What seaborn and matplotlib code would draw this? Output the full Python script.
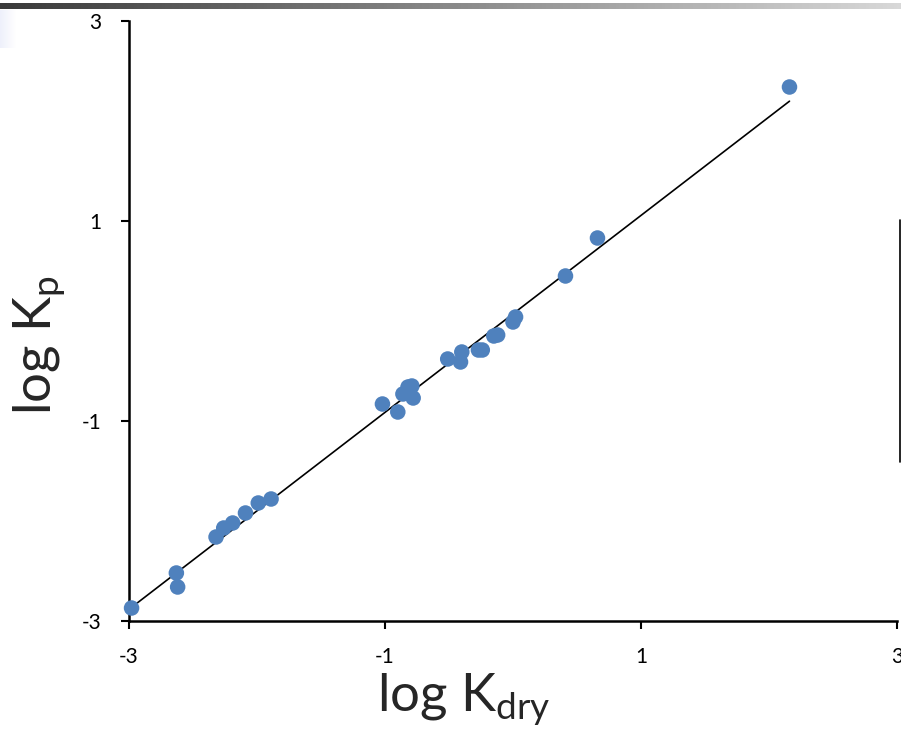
import numpy as np
import pandas as pd
import matplotlib
matplotlib.use("Agg")
import matplotlib.pyplot as plt
import seaborn as sns
from matplotlib.lines import Line2D

# 数据: log K_dry vs log K_p
log_kdry = [-2.98, -2.63, -2.62, -2.32, -2.26, -2.19, -2.09, -1.99, -1.89,
            -1.02, -0.90, -0.86, -0.82, -0.79, -0.78,
            -0.51, -0.40, -0.41, -0.27, -0.24, -0.15, -0.12, 0.00, 0.02,
            0.41, 0.66, 2.16]
log_kp = [-2.87, -2.52, -2.66, -2.16, -2.07, -2.02, -1.92, -1.82, -1.78,
          -0.83, -0.91, -0.73, -0.66, -0.65, -0.77,
          -0.38, -0.31, -0.41, -0.29, -0.29, -0.15, -0.14, -0.01, 0.04,
          0.45, 0.83, 2.34]
ticks = [-3, -1, 1, 3]

df = pd.DataFrame({"log_kdry": log_kdry, "log_kp": log_kp})

sns.set_theme(style="white")
plt.rcParams["font.family"] = ["Lato", "DejaVu Sans"]
plt.rcParams["mathtext.fontset"] = "custom"

fig = plt.figure(figsize=(9.01, 7.35), dpi=100)
ax = fig.add_axes([129 / 901, 1 - 621 / 735, (897 - 129) / 901, (621 - 21) / 735])

# 幻灯片顶部的渐变条
bar_ax = fig.add_axes([0, 1 - 9.5 / 735, 1, 6.5 / 735])
bar_ax.imshow(np.linspace(0, 1, 256)[None, :], aspect="auto",
              cmap=matplotlib.colors.LinearSegmentedColormap.from_list("g", ["#3a3a3a", "#d8d8d8"]))
bar_ax.axis("off")
side_ax = fig.add_axes([0, 1 - 48 / 735, 16 / 901, 38 / 735])
side_ax.imshow(np.linspace(0, 1, 64)[None, :], aspect="auto",
               cmap=matplotlib.colors.LinearSegmentedColormap.from_list("s", ["#eef0fb", "#ffffff"]))
side_ax.axis("off")
fig.add_artist(Line2D([899.5 / 901, 899.5 / 901], [1 - 220 / 735, 1 - 462 / 735],
                      color="black", lw=1.2, transform=fig.transFigure))

sns.regplot(data=df, x="log_kdry", y="log_kp", ax=ax, ci=None, scatter=False,
            truncate=True, line_kws={"color": "black", "lw": 1.2})
sns.scatterplot(data=df, x="log_kdry", y="log_kp", ax=ax, s=125,
                color="#4F81BD", edgecolor="none", zorder=3, clip_on=False)

ax.set_xlim(-3, 3)
ax.set_ylim(-3, 3)
ax.set_xticks(ticks)
ax.set_yticks(ticks)
ax.set_xticklabels([str(t) for t in ticks])
ax.set_yticklabels([str(t) for t in ticks])
ax.tick_params(axis="both", direction="out", length=6, width=1.5, colors="black",
               labelsize=15, left=True, bottom=True)
ax.tick_params(axis="x", pad=13)
ax.tick_params(axis="y", pad=14)
for s in ["top", "right"]:
    ax.spines[s].set_visible(False)
for s in ["left", "bottom"]:
    ax.spines[s].set_color("black")
    ax.spines[s].set_linewidth(1.8)

ax.set_xlabel(r"log K$_\mathregular{dry}$", fontsize=38)
ax.set_ylabel(r"log K$_\mathregular{p}$", fontsize=38)
ax.xaxis.set_label_coords((464 - 129) / 768, -(700 - 621) / 600)
ax.yaxis.set_label_coords(-(129 - 40) / 768, (621 - 345) / 600)
ax.xaxis.label.set_va("center")
ax.yaxis.label.set_va("center")

fig.savefig("out.png", dpi=100)
